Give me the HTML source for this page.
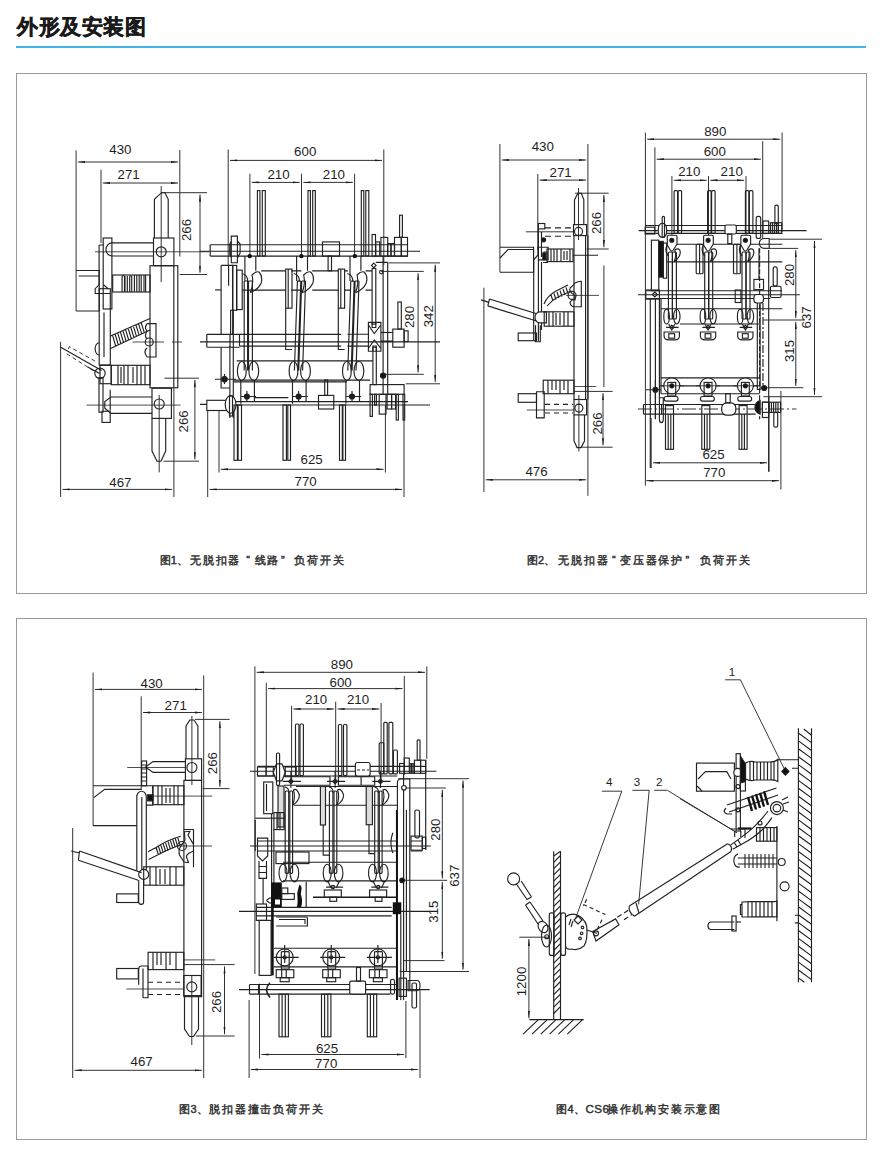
<!DOCTYPE html>
<html><head><meta charset="utf-8">
<style>
html,body{margin:0;padding:0;background:#fff;}
body{width:882px;height:1155px;position:relative;overflow:hidden;font-family:"Liberation Sans",sans-serif;}
.title{position:absolute;left:17px;top:12px;font-size:20.5px;font-weight:bold;color:#1a1a1a;letter-spacing:0.55px;-webkit-text-stroke:0.5px #1a1a1a;line-height:30px;white-space:nowrap;}
.rule{position:absolute;left:16px;top:46px;width:850px;height:2px;background:#3fb4e6;}
.box{position:absolute;border:1.5px solid #9a9a9a;box-sizing:border-box;}
.cap{position:absolute;font-size:11px;font-weight:normal;-webkit-text-stroke:0.45px #333;color:#333;letter-spacing:1.8px;white-space:nowrap;line-height:14px;}
svg{position:absolute;left:0;top:0;}
</style></head><body>
<div class="title">外形及安装图</div>
<div class="rule"></div>
<div class="box" style="left:15.5px;top:72.5px;width:851px;height:521.5px"></div>
<div class="box" style="left:15.5px;top:618px;width:851px;height:521.5px"></div>
<div class="cap" style="left:159.5px;top:553px;letter-spacing:0.2px">图1、</div>
<div class="cap" style="left:190.1px;top:553px">无脱扣器</div>
<div class="cap" style="left:246.2px;top:553px">“</div>
<div class="cap" style="left:254.5px;top:553px">线路</div>
<div class="cap" style="left:281.1px;top:553px">”</div>
<div class="cap" style="left:294.2px;top:553px">负荷开关</div>
<div class="cap" style="left:526.9px;top:553px;letter-spacing:0.2px">图2、</div>
<div class="cap" style="left:558.2px;top:553px">无脱扣器</div>
<div class="cap" style="left:611.9px;top:553px">“</div>
<div class="cap" style="left:620.1px;top:553px">变压器保护</div>
<div class="cap" style="left:685.4px;top:553px">”</div>
<div class="cap" style="left:700.4px;top:553px">负荷开关</div>
<div class="cap" style="left:179.4px;top:1102px;letter-spacing:0.2px">图3、</div>
<div class="cap" style="left:209.3px;top:1102px">脱扣器撞击负荷开关</div>
<div class="cap" style="left:556.3px;top:1102px;letter-spacing:0.2px">图4、</div>
<div class="cap" style="left:585.4px;top:1102px;font-weight:normal;letter-spacing:0.6px;font-size:11.5px;top:1101.5px">CS6</div>
<div class="cap" style="left:606.9px;top:1102px">操作机构安装示意图</div>
<svg width="882" height="1155" viewBox="0 0 882 1155">
<defs>
<marker id="a" viewBox="0 0 12 4" refX="12" refY="2" markerWidth="7.2" markerHeight="2.4" markerUnits="userSpaceOnUse" orient="auto-start-reverse"><path d="M0,0.4 L12,2 L0,3.6 z" fill="#1a1a1a"/></marker>
</defs>
<g id="txt" font-family="Liberation Sans" font-size="13.3" fill="#1e1e1e" text-anchor="middle">

<text x="120.4" y="154">430</text>
<text x="128.6" y="179">271</text>
<text transform="translate(191.2,230) rotate(-90)">266</text>
<text transform="translate(188.2,421.4) rotate(-90)">266</text>
<text x="120.4" y="486.7">467</text>
<text x="305.2" y="155.5">600</text>
<text x="278.5" y="179.4">210</text>
<text x="333.9" y="179.4">210</text>
<text transform="translate(414,317) rotate(-90)">280</text>
<text transform="translate(433.1,316.2) rotate(-90)">342</text>
<text x="311.6" y="464.4">625</text>
<text x="305.6" y="485.6">770</text>
<text x="542.8" y="151.2">430</text>
<text x="560.6" y="177.2">271</text>
<text transform="translate(601.0,223) rotate(-90)">266</text>
<text transform="translate(602.0,423.5) rotate(-90)">266</text>
<text x="536.5" y="476.1">476</text>
<text x="715.3" y="135.5">890</text>
<text x="714.8" y="155.7">600</text>
<text x="689.3" y="176.1">210</text>
<text x="731.7" y="176.1">210</text>
<text transform="translate(793.9,275) rotate(-90)">280</text>
<text transform="translate(811.3,317.4) rotate(-90)">637</text>
<text transform="translate(793.9,351) rotate(-90)">315</text>
<text x="713.5" y="459">625</text>
<text x="714.3" y="477">770</text>
<text x="151.6" y="687.7">430</text>
<text x="175.7" y="709.9">271</text>
<text transform="translate(216.7,763.1) rotate(-90)">266</text>
<text transform="translate(221.1,1002) rotate(-90)">266</text>
<text x="141.6" y="1065.5">467</text>
<text x="341.9" y="668.5">890</text>
<text x="340.6" y="686.7">600</text>
<text x="316.1" y="704.4">210</text>
<text x="358" y="704.4">210</text>
<text transform="translate(439.8,829.6) rotate(-90)">280</text>
<text transform="translate(438.4,911.6) rotate(-90)">315</text>
<text transform="translate(458.8,875.7) rotate(-90)">637</text>
<text x="327" y="1052.6">625</text>
<text x="326.2" y="1068">770</text>
<text transform="translate(526.0,981.5) rotate(-90)">1200</text>
</g>
<g id="dims" stroke="#333" stroke-width="1" fill="none">

<path d="M76.1,150.4V311 M179.8,150V256.5 M101,169.8V243 M161.2,186V282 M161,192.7H207 M179.6,274.5H207 M60.6,341.8V497 M173.9,388V497 M164.3,378.2H199 M163.3,461.2H199 M159.2,395V472.4"/>
<line x1="77.9" y1="162.0" x2="178.0" y2="162.0" marker-start="url(#a)" marker-end="url(#a)"/>
<line x1="102.8" y1="183.0" x2="178.0" y2="183.0" marker-start="url(#a)" marker-end="url(#a)"/>
<line x1="200.0" y1="194.5" x2="200.0" y2="272.7" marker-start="url(#a)" marker-end="url(#a)"/>
<line x1="194.9" y1="380.0" x2="194.9" y2="459.4" marker-start="url(#a)" marker-end="url(#a)"/>
<line x1="62.4" y1="489.4" x2="172.1" y2="489.4" marker-start="url(#a)" marker-end="url(#a)"/>
<path d="M228.2,149.5V265 M383.8,149.5V265 M249.9,173.7V256.5 M301.5,173.7V256.5 M354.6,173.7V256.5 M381,271.4H423.8 M383.8,374.3H423.8 M388.6,262.9H440 M405.7,383.8H440 M219,410V472.5 M385.4,405V472.5 M207.7,410V497 M404,404.5V497"/>
<line x1="230.0" y1="160.4" x2="382.0" y2="160.4" marker-start="url(#a)" marker-end="url(#a)"/>
<line x1="251.7" y1="182.4" x2="299.7" y2="182.4" marker-start="url(#a)" marker-end="url(#a)"/>
<line x1="303.3" y1="182.4" x2="352.8" y2="182.4" marker-start="url(#a)" marker-end="url(#a)"/>
<line x1="418.1" y1="273.2" x2="418.1" y2="372.5" marker-start="url(#a)" marker-end="url(#a)"/>
<line x1="435.2" y1="264.7" x2="435.2" y2="382.0" marker-start="url(#a)" marker-end="url(#a)"/>
<line x1="220.8" y1="469.3" x2="383.6" y2="469.3" marker-start="url(#a)" marker-end="url(#a)"/>
<line x1="209.5" y1="489.4" x2="402.2" y2="489.4" marker-start="url(#a)" marker-end="url(#a)"/>
<path d="M499.9,144V272.2 M587.9,144V495.8 M537.8,174V250 M575,193.2H608.7 M586.6,249H608.7 M603.9,265.5V387 M574,391.4H612.6 M580.8,447.2H612.6 M483.9,287.7V492 M578.5,188V240 M578.9,395V451.5"/>
<line x1="501.7" y1="160.0" x2="586.1" y2="160.0" marker-start="url(#a)" marker-end="url(#a)"/>
<line x1="539.6" y1="180.1" x2="586.1" y2="180.1" marker-start="url(#a)" marker-end="url(#a)"/>
<line x1="603.9" y1="195.0" x2="603.9" y2="247.2" marker-start="url(#a)" marker-end="url(#a)"/>
<line x1="603.0" y1="393.2" x2="603.0" y2="445.4" marker-start="url(#a)" marker-end="url(#a)"/>
<line x1="485.7" y1="479.8" x2="586.1" y2="479.8" marker-start="url(#a)" marker-end="url(#a)"/>
<path d="M645.4,132.5V485.7 M782.1,132.5V232 M654.9,147.4V232 M762.7,141.2V248 M671.9,176.1V241 M708.5,176.1V241 M746,176.1V241 M763.4,248.4H798.3 M763.4,320H804.5 M763,387.7H803.3 M769.6,239.2H822 M763.4,396.7H822 M651.2,418V468 M768.9,397V472 M780.9,391V489.5"/>
<line x1="647.2" y1="139.2" x2="780.3" y2="139.2" marker-start="url(#a)" marker-end="url(#a)"/>
<line x1="656.7" y1="159.2" x2="760.9" y2="159.2" marker-start="url(#a)" marker-end="url(#a)"/>
<line x1="673.7" y1="180.3" x2="706.7" y2="180.3" marker-start="url(#a)" marker-end="url(#a)"/>
<line x1="710.3" y1="180.3" x2="744.2" y2="180.3" marker-start="url(#a)" marker-end="url(#a)"/>
<line x1="795.8" y1="250.2" x2="795.8" y2="318.2" marker-start="url(#a)" marker-end="url(#a)"/>
<line x1="795.8" y1="321.8" x2="795.8" y2="385.9" marker-start="url(#a)" marker-end="url(#a)"/>
<line x1="814.5" y1="241.0" x2="814.5" y2="394.9" marker-start="url(#a)" marker-end="url(#a)"/>
<line x1="653.0" y1="462.8" x2="767.1" y2="462.8" marker-start="url(#a)" marker-end="url(#a)"/>
<line x1="646.3" y1="480.7" x2="779.1" y2="480.7" marker-start="url(#a)" marker-end="url(#a)"/>
<path d="M93.1,672.6V825.6 M203.7,675.4V1078 M141.2,696.3V790 M195,719.4H229.6 M202.6,788.6H229.6 M183.8,964.6H234.6 M195.7,1036H234.6 M72.7,828V1078 M191.9,716V785 M191.8,975V1045"/>
<line x1="94.9" y1="689.4" x2="201.9" y2="689.4" marker-start="url(#a)" marker-end="url(#a)"/>
<line x1="143.0" y1="712.5" x2="201.9" y2="712.5" marker-start="url(#a)" marker-end="url(#a)"/>
<line x1="219.9" y1="721.2" x2="219.9" y2="786.8" marker-start="url(#a)" marker-end="url(#a)"/>
<line x1="224.5" y1="966.4" x2="224.5" y2="1034.2" marker-start="url(#a)" marker-end="url(#a)"/>
<line x1="74.5" y1="1070.3" x2="201.9" y2="1070.3" marker-start="url(#a)" marker-end="url(#a)"/>
<path d="M254.9,666.3V974 M426.8,666.3V758.8 M266.3,682.7V775 M404.3,675.9V775 M291.6,705.8V781 M335.7,701.7V781 M381.1,703V780 M398.3,778.7H469 M405,788H445.9 M403.7,880.3H447.2 M403.7,960.6H444.5 M399.6,971.5H469 M259.5,983.7V1058.6 M405.9,1001V1058 M249.1,1000V1078 M420,990V1078"/>
<line x1="256.7" y1="672.3" x2="425.0" y2="672.3" marker-start="url(#a)" marker-end="url(#a)"/>
<line x1="268.1" y1="688.6" x2="402.5" y2="688.6" marker-start="url(#a)" marker-end="url(#a)"/>
<line x1="293.4" y1="709.0" x2="333.9" y2="709.0" marker-start="url(#a)" marker-end="url(#a)"/>
<line x1="337.5" y1="709.0" x2="379.3" y2="709.0" marker-start="url(#a)" marker-end="url(#a)"/>
<line x1="442.3" y1="789.8" x2="442.3" y2="878.5" marker-start="url(#a)" marker-end="url(#a)"/>
<line x1="442.3" y1="882.1" x2="442.3" y2="958.8" marker-start="url(#a)" marker-end="url(#a)"/>
<line x1="463.0" y1="780.5" x2="463.0" y2="969.7" marker-start="url(#a)" marker-end="url(#a)"/>
<line x1="261.3" y1="1054.5" x2="404.1" y2="1054.5" marker-start="url(#a)" marker-end="url(#a)"/>
<line x1="250.9" y1="1069.5" x2="418.2" y2="1069.5" marker-start="url(#a)" marker-end="url(#a)"/>
<path d="M519.3,937.2H550"/>
<line x1="528.9" y1="939.0" x2="528.9" y2="1018.2" marker-start="url(#a)" marker-end="url(#a)"/>
</g>
<g id="f1" stroke="#222" stroke-width="1.15" fill="none">

<!-- side view -->
<path d="M154.4,238V199.3L161.5,192.7H165L168.2,199.3V238"/>
<rect x="153.5" y="238" width="20.4" height="27.7"/>
<circle cx="161.2" cy="251.8" r="5"/>
<path d="M153.5,242.9H112 M153.5,256H112 M112,242.9A6,6.5 0 0 0 112,256"/>
<path d="M95,251.8H209" stroke-width="0.8"/>
<rect x="103.2" y="238" width="8.7" height="71"/>
<path d="M99.1,245H103.5 M99.1,245V284.8L95.2,288.7V293.5H110.3 M103.5,284.8L108,288.7"/>
<rect x="99.2" y="288.7" width="11.1" height="76.3"/>
<path d="M104,312.5V357"/>
<rect x="112.7" y="275" width="37.3" height="17"/>
<path d="M122.1,292V276.5Q123.3,274 124.5,276.5V292 M125,292V276 M127.3,292V276 M129.7,292V276.5Q130.7,275 131.7,276.5V292 M134.4,292V275 M136.8,292V275 M139.2,292V275 M141.2,292V275 M144,292V275 M145.6,292V275"/>
<rect x="150" y="265.7" width="27.8" height="122.1"/>
<path d="M173.8,265.7V387.8"/>
<path d="M76,270.5H99.2V311H76 M78.6,276H99.2"/>
<path d="M110,336.3L150,318.5 M110,348.7L150,330 M112.5,335.2L115.7,346.0 M115.1,334.0L118.3,344.8 M117.7,332.9L120.9,343.6 M120.3,331.7L123.5,342.4 M122.9,330.6L126.1,341.2 M125.5,329.4L128.7,340.0 M128.1,328.2L131.3,338.7 M130.7,327.1L133.9,337.5 M133.3,325.9L136.5,336.3 M135.9,324.8L139.1,335.1 M138.5,323.6L141.7,333.9 M141.1,322.5L144.3,332.7"/>
<path d="M147,323.6H156V357H147 M147,323.6Q144,328 147,331 Q144,336 147,339 M147,348Q143,351 147,357"/>
<circle cx="149.2" cy="342" r="4"/>
<path d="M132.5,342H164 M172,342H182" stroke-width="0.8"/>
<path d="M99.2,342.7A4,6 0 0 0 99.2,355"/>
<circle cx="100" cy="373.3" r="5.2" fill="#fff"/>
<path d="M60.3,347.1L101.6,370.5 M87.7,366.9L99.6,373.6"/>
<path d="M68.3,349L69.4,346.7L97.6,362.5 M66.7,353.8L94.4,371.3" stroke-dasharray="4,3" stroke-width="0.9"/>
<rect x="111.2" y="365.3" width="38.8" height="19.4"/>
<path d="M118,365.3V384.7 M121,367V383 M124,365.3V384.7 M128,365.3V384.7 M133,367V383 M137,365.3V384.7 M141,365.3V384.7 M145,365.3V384.7"/>
<rect x="100" y="365.3" width="11.2" height="18.4"/>
<rect x="99" y="377.6" width="4" height="34.6"/>
<rect x="102" y="411.2" width="8.2" height="11.2"/>
<path d="M152,397H111L104.8,401.5V408.3L111,413.4H152"/>
<path d="M86.7,405.1H180.6" stroke-width="0.8"/>
<rect x="152" y="388.2" width="19.4" height="30.2"/>
<circle cx="159.2" cy="404" r="5"/>
<path d="M152,418.4V451L157,461.2H161L165.7,451V418.4"/>
<path d="M110.2,389.8V410.2"/>
<!-- front view -->
<path d="M210.2,244.7H408 M210.2,256.1H408 M210.2,244.7V256.1 M230,244.7V256.1 M200,251.2H420"/>
<path d="M231.3,236.1H237.4V262.7H231.3Z M231.3,241L229.9,244V253L231.3,258 M237.4,241L240.1,244V253L237.4,258"/>
<rect x="257.4" y="190.6" width="2.5" height="65.4"/><rect x="262.3" y="190.6" width="3" height="65.4"/>
<rect x="308" y="190.6" width="2.4" height="65.4"/><rect x="312.7" y="190.6" width="2.6" height="65.4"/>
<rect x="361.3" y="190.6" width="2.5" height="65.4"/><rect x="365.8" y="190.6" width="3" height="65.4"/>
<g fill="#111" stroke="none"><circle cx="249.7" cy="256.1" r="2.2"/><circle cx="301.4" cy="256.1" r="2.2"/><circle cx="354.8" cy="256.1" r="2.2"/></g>
<rect x="322.5" y="241.9" width="17" height="14.2"/>
<rect x="328.1" y="256.1" width="3.4" height="14.7"/>
<rect x="372.1" y="234.5" width="3.4" height="21.6"/>
<rect x="375.8" y="241.9" width="3.9" height="14.2"/>
<rect x="380.9" y="237.4" width="6.8" height="18.7"/>
<rect x="387.7" y="243.6" width="3.3" height="12.5"/>
<rect x="391" y="243.6" width="3.5" height="12.5"/>
<rect x="394.5" y="237.4" width="6.8" height="18.7"/>
<rect x="401.3" y="237.4" width="6.2" height="18.7"/>
<rect x="399.6" y="215.2" width="2.8" height="22.2"/>
<path d="M383.1,256.1V394.3 M387.7,262.3V384.6 M375.8,262.3H387.7"/>
<rect x="372.1" y="268.5" width="3.7" height="55.6"/>
<path d="M373.8,263.1L376.1,265.4L373.8,267.7L371.5,265.4Z"/>
<circle cx="381.4" cy="272" r="1.8"/>
<path d="M368.4,322.3H380.9V351.2H368.4Z M368.4,325L374.3,333.5L380.9,325 M368.4,348.5L374.3,340L380.9,348.5 M372.1,322.3V327.5H375.8V322.3 M372.9,351.2V346H376.3V351.2"/>
<rect x="372.9" y="347.2" width="3.4" height="37.4"/>
<rect x="392.8" y="329.1" width="11.3" height="18.1"/>
<rect x="404.1" y="330.8" width="4" height="10.7"/>
<rect x="397.9" y="302" width="3.4" height="27.1"/>
<path d="M380.9,332.5H392.8"/>
<circle cx="383.1" cy="375.6" r="2.6" fill="#111"/>
<rect x="370.1" y="384.6" width="34" height="9.7"/>
<path d="M387.7,384.6V394.3"/>
<rect x="370.1" y="394.3" width="2.3" height="22.1"/>
<rect x="374.6" y="394.3" width="1.8" height="10.7"/>
<rect x="379.2" y="394.3" width="6.8" height="19.8"/>
<rect x="387.1" y="394.3" width="4.5" height="14.7"/>
<rect x="391.6" y="394.3" width="4" height="14.7"/>
<rect x="396.2" y="394.3" width="2.2" height="25.7"/>
<rect x="403" y="394.3" width="1.7" height="25.7"/>
<!-- left frame -->
<path d="M221.1,265.4H232.7V334.2 M221.1,265.4V334.2 M228.6,265.4V285.8 M221.1,347.2V388H229.9 M229.9,346.1V418 M233.3,346.1V418"/>
<rect x="232.7" y="265.4" width="4" height="44.9"/>
<rect x="230.6" y="310.3" width="2.7" height="24"/>
<rect x="236.7" y="270.1" width="5.5" height="39.5"/>
<path d="M206.8,334.3H239.5 M206.8,347.2H239.5 M206.8,334.3V347.2 M230,334.3V347.2 M233.3,334.3V346 M239.5,334.3V346 M239.5,334.3H341.2 M239.5,346.1H341.2 M200,341.8H440 M347.4,334.2H368.4 M347.4,346.1H368.4 M380.9,341H392.8"/>
<path d="M215,289.9H221.1"/>
<path d="M261.2,270.8H285.7 M291.2,270.8H301.4 M312.2,270.8H338.3 M344.6,270.8H348 M365.6,270.8H372.1 M242.2,290.1H285.7 M291.2,290.1H301.4 M312.2,290.1H338.3 M344.6,290.1H351 M365.6,290.1H372.1"/>
<path d="M236.7,360.8H372.9 M233.3,380.1H370.1 M233.3,381.9H346.8"/>
<circle cx="224.5" cy="379.2" r="2.7" fill="#111"/>
<path d="M215,379.2H236 M224.5,374V384"/>
<path d="M244.9,256.1V281 M255.8,256.1V270.8"/>
<path d="M242.2,273.5Q248.0,275 247.6,281.7"/>
<path d="M250.3,292.6Q254.0,284 252.0,275 Q256.0,270.8 259.0,272 Q263.0,276 261.2,283 Q258.0,290 250.3,292.6"/>
<path d="M244.2,281V370.5 M247.6,281V370.5 M244.2,281H247.6 M248.5,281L248.5,370.5 M252.4,281L252.4,370.5 M248.5,281H252.4"/>
<ellipse cx="241.8" cy="371" rx="4.4" ry="9.5"/><ellipse cx="253.8" cy="371" rx="4.9" ry="9.5"/>
<path d="M240.8,380V403.7 M254.4,380V401.6"/>
<circle cx="246.9" cy="396.5" r="2.5" fill="#111"/><path d="M246.9,391V402 M241.0,396.5H256.0"/>
<rect x="285.7" y="269.1" width="6.3" height="39.1"/><path d="M288.2,269.1V308.2"/>
<path d="M285.7,308.2V349.5H292.0"/>
<path d="M296.6,256.1V281 M307.5,256.1V270.8"/>
<path d="M293.9,273.5Q299.7,275 299.3,281.7"/>
<path d="M302.0,292.6Q305.7,284 303.7,275 Q307.7,270.8 310.7,272 Q314.7,276 312.9,283 Q309.7,290 302.0,292.6"/>
<path d="M297.4,281L294.4,370.5 M300.8,281L297.8,370.5 M297.4,281H300.8 M301.7,281L298.7,370.5 M305.6,281L302.6,370.5 M301.7,281H305.6"/>
<ellipse cx="293.5" cy="371" rx="4.4" ry="9.5"/><ellipse cx="305.5" cy="371" rx="4.9" ry="9.5"/>
<path d="M292.5,380V403.7 M306.1,380V401.6"/>
<circle cx="298.6" cy="396.5" r="2.5" fill="#111"/><path d="M298.6,391V402 M292.7,396.5H307.7"/>
<rect x="338.3" y="269.1" width="6.3" height="39.1"/><path d="M340.8,269.1V308.2"/>
<path d="M338.3,308.2V349.5H344.6"/>
<path d="M350.0,256.1V281 M360.9,256.1V270.8"/>
<path d="M347.3,273.5Q353.1,275 352.7,281.7"/>
<path d="M355.4,292.6Q359.1,284 357.1,275 Q361.1,270.8 364.1,272 Q368.1,276 366.3,283 Q363.1,290 355.4,292.6"/>
<path d="M350.8,281L347.8,370.5 M354.2,281L351.2,370.5 M350.8,281H354.2 M355.1,281L352.1,370.5 M359.0,281L356.0,370.5 M355.1,281H359.0"/>
<ellipse cx="346.9" cy="371" rx="4.4" ry="9.5"/><ellipse cx="358.9" cy="371" rx="4.9" ry="9.5"/>
<path d="M345.9,380V403.7 M359.5,380V401.6"/>
<circle cx="352.0" cy="396.5" r="2.5" fill="#111"/><path d="M352.0,391V402 M346.1,396.5H361.1"/>
<path d="M254.4,397.6H288.4"/>
<rect x="206.8" y="400.3" width="27.2" height="10.2"/>
<path d="M234,401.6H408 M234,405H430 M200,404.4H206.8"/>
<ellipse cx="230.6" cy="404.4" rx="5.4" ry="8.8" fill="#fff"/>
<rect x="229.5" y="396" width="3" height="20"/>
<rect x="318.5" y="395.4" width="15.3" height="13.6"/>
<rect x="324.7" y="380" width="2.9" height="15.4"/>
<rect x="234" y="405" width="3.4" height="55.3"/><rect x="238.1" y="405" width="3.4" height="55.3"/>
<rect x="283" y="405" width="3.4" height="55.3"/><rect x="287.8" y="405" width="2.7" height="55.3"/>
<rect x="339.5" y="405" width="2.8" height="55.3"/><rect x="342.9" y="405" width="2.6" height="55.3"/>
</g>
<g id="f2" stroke="#222" stroke-width="1.15" fill="none">
<path d="M574.5,224.6V199.6L577.9,193.4H581.3L583.8,199.6V224.6"/>
<rect x="573.5" y="224.6" width="13.1" height="11"/>
<circle cx="578.5" cy="231.4" r="4"/>
<path d="M574,235.6V399.5 M585.6,235.6V399.5 M587.9,235.6V399.5"/>
<path d="M499.9,247.2H533.6V272.2H499.9 M500,258L508,249.5H533.6"/>
<path d="M545,227.9H573 M545,236.2H573" stroke-dasharray="6,4"/>
<path d="M525.9,231.8H573" stroke-width="0.9"/>
<rect x="538.4" y="223.5" width="6.4" height="5.4"/>
<path d="M538.4,228.9V341 M541.5,232V257 M541.5,262V330 M573.2,255.2H598"/>
<rect x="547" y="249" width="26" height="12.6"/>
<path d="M551,249V261.6 M554,249V261.6 M557,249V261.6 M561,249V261.6 M564,251V260 M567,251V260 M570,249V261.6 M544,252H547V259H544Z"/>
<circle cx="543.6" cy="239.8" r="2" fill="#111"/>
<rect x="542.8" y="253" width="2.7" height="6.7" fill="#111"/>
<path d="M533.7,259.9L538,255V247.2H548.1V259.9H538 M543,262.5H548 M533.7,258V341"/>
<path d="M544,304Q547,296 556,291L568,285 M547,306Q552,300 558,297L570,291.5 M551,295L553,301 M554,293.5L556,299.5 M557,292L559,298 M560,290.5L562,296.5 M563,289L565,295 M566,287.5L568,293.5"/>
<path d="M581.3,281.2V306.7H574Q570,306 570,302Q572,299 575,300Q576,296 573,294Q569,292 570,288Q573,286 575,283Q578,281.2 581.3,281.2Z"/>
<circle cx="572.1" cy="295.4" r="4"/>
<path d="M566,295.4H599" stroke-width="0.8"/>
<path d="M489.5,299L540,314.8 M487.8,305.9L538,321.5 M481,299.9L489,302.4 M489.5,299L487.8,305.9"/>
<path d="M540,311.8H546.4V322.9H540A5,5.55 0 0 1 540,311.8Z" fill="#fff"/>
<rect x="544.2" y="311.8" width="29.8" height="14.4"/>
<path d="M549,311.8V326.2 M553,311.8V326.2 M556,313V325 M560,313V325 M564,311.8V326.2 M568,311.8V326.2"/>
<path d="M535.5,325.3V341.7H540.3V325.3"/>
<rect x="518.2" y="333" width="18.3" height="7.7"/>
<rect x="543.2" y="380.2" width="30.8" height="13.5"/>
<path d="M548,380.2V393.7 M552,380.2V390 M556,380.2V390 M560,380.2V393.7 M564,380.2V390 M568,380.2V393.7"/>
<path d="M574,386.5H596.2" stroke-width="0.8"/>
<rect x="518.2" y="393.7" width="18.3" height="8.6"/>
<path d="M536.5,417.8V391.7H544.2V417.8Z"/>
<path d="M526.8,410H574" stroke-width="0.8"/>
<path d="M545,404.3H573 M545,413H573" stroke-dasharray="5,4"/>
<rect x="574" y="399.5" width="12.6" height="15.4"/>
<circle cx="578.9" cy="408.1" r="4"/>
<path d="M574,414.9V441L577,447.6H581L584.5,441V414.9"/>
<path d="M645.2,225.5H782.3 M645.2,233.4H782.3 M638.7,230.6H806.6"/>
<rect x="645.2" y="227.2" width="9.6" height="6.8"/>
<path d="M658.2,230.3Q658.2,223.2 662.4,223.2Q666.7,223.2 666.7,230.3Q666.7,237.4 662.4,237.4Q658.2,237.4 658.2,230.3Z" fill="#fff"/>
<rect x="662.2" y="216.4" width="2.3" height="21" rx="1"/>
<rect x="725" y="225" width="11.3" height="9" rx="1.5" fill="#fff"/><rect x="727.8" y="234" width="4" height="9.6"/>
<rect x="756.2" y="216.4" width="4.5" height="22.1" rx="2"/>
<rect x="763" y="221" width="5.7" height="12.4"/>
<rect x="770.4" y="222.7" width="7.9" height="10.7"/><path d="M772.4,222.7V233.4 M774.4,222.7V233.4 M776.4,222.7V233.4"/>
<rect x="774.9" y="205.1" width="3.4" height="18.7" rx="1.5"/>
<rect x="778.3" y="222.7" width="3.4" height="10.7"/>
<path d="M769.2,238.5H764A4.7,4.85 0 0 0 764,248.2H769.2Z" fill="#fff"/>
<rect x="651.4" y="240.2" width="7.4" height="50.5"/>
<rect x="658.8" y="241.4" width="4.5" height="35.7" fill="#111"/>
<rect x="663.3" y="243.1" width="3.4" height="35.1"/>
<path d="M677,244.2H782.3 M666.7,261.8H782.3"/>
<path d="M759,248.2V279.4 M768.7,250V471.4"/>
<rect x="753.9" y="279.4" width="9.6" height="10.2"/>
<rect x="773.2" y="266.9" width="4" height="19.3" rx="2"/>
<rect x="770.4" y="286.2" width="10.7" height="11.3" rx="1.5"/>
<path d="M646.3,290.7H782 M646.3,298.5H770.4 M638,294.7H799.8"/>
<rect x="645.8" y="290" width="13.6" height="9.1"/>
<path d="M654.8,292L657.3,294.5L654.8,297L652.3,294.5Z"/>
<path d="M650.3,299.1V468 M655.4,299.1V419.2 M659.4,299.1V397.7 M661,299.1V393.7"/>
<path d="M661,308.7H782.3 M680,324H760"/>
<path d="M661,377.8H759.6 M661,385.8H759.6 M661,393.7H759.6"/>
<path d="M643.5,404.5H755.6 M643.5,414.1H755.6 M643.5,404.5V414.1 M661.6,404.5V414.1"/>
<path d="M638,409H796.4" stroke-dasharray="14,3,2,3" stroke-width="0.9"/>
<circle cx="655.4" cy="389.7" r="2.5" fill="#111"/><path d="M645.8,389.7H661 M655.4,380V419"/>
<path d="M659.4,397.7H663.3V419Q663.3,422.6 661.3,422.6Q659.4,422.6 659.4,419Z"/>
<rect x="721.7" y="402.8" width="14.1" height="12.4" rx="5" fill="#fff"/>
<rect x="725.7" y="393.7" width="4.5" height="9.1"/>
<path d="M760.1,400.5Q755,402 755,407.3Q755,412.6 760.1,414.1Z" fill="#111"/>
<path d="M759.6,248.2V419.2" stroke-dasharray="5,2"/>
<circle cx="764.1" cy="388" r="2.5" fill="#111"/>
<rect x="762.4" y="402.2" width="18.2" height="10.2"/><path d="M769.2,402.2V412.4 M771.4,402.2V412.4 M773.6,402.2V412.4 M775.8,402.2V412.4 M778,402.2V412.4"/>
<rect x="762.4" y="402.2" width="6.3" height="15.3"/>
<rect x="773.8" y="412.4" width="3.9" height="14.8" rx="1.5"/>
<rect x="757.3" y="302.5" width="2.8" height="87"/>
<rect x="753.9" y="294.5" width="9.6" height="8.5" rx="3" fill="#fff"/>
<path d="M763,303V390" stroke-dasharray="8,2,2,2"/>
<rect x="735.2" y="290" width="5.7" height="12.5"/>
<rect x="674.1" y="190.6" width="3.5" height="42.8" rx="1"/><rect x="678.1" y="190.6" width="3.5" height="42.8" rx="1"/>
<path d="M667.3,245V236.5Q667.3,235.2 668.8,235.2H675.6Q677.0,235.2 677.0,236.5V244L673.3,250Q671.8,252.2 670.3,250Z" fill="#fff"/><circle cx="671.8" cy="240.2" r="2" fill="#111"/>
<path d="M674.1,261.8Q676.8,256 674.8,250 Q677.8,247.6 679.8,250 Q681.8,256 674.1,261.8"/>
<path d="M667.3,245Q663.8,250 668.4,256"/>
<rect x="668.4" y="252" width="4" height="67" rx="1"/><rect x="672.4" y="252" width="4" height="67" rx="1"/>
<ellipse cx="666.6" cy="316.6" rx="2.8" ry="7.4"/><ellipse cx="676.8" cy="316.6" rx="3.2" ry="7.4"/>
<path d="M668.8,324L671.8,330L674.8,324 M666.1,327.4H678.6 M671.8,325.2L673.8,327.4L671.8,329.6L669.8,327.4Z"/>
<path d="M664.1,332H679.4V336Q679.4,339.9 674.8,339.9H668.8Q664.1,339.9 664.1,336Z"/><rect x="668.8" y="333.7" width="5.8" height="4.5"/>
<circle cx="671.8" cy="385.8" r="8" fill="#fff"/><path d="M659.8,385.8H683.8" stroke-width="0.8"/><rect x="667.8" y="382.4" width="7.9" height="13.6"/><circle cx="671.8" cy="385.8" r="2" fill="#111"/>
<rect x="664.2" y="396.5" width="13.8" height="4.6" rx="2"/>
<rect x="665.5" y="405.6" width="8" height="43.7"/><path d="M668.2,414.1V449.3 M670.8,414.1V449.3"/>
<rect x="707.6" y="190.6" width="3.5" height="42.8" rx="1"/><rect x="711.6" y="190.6" width="3.5" height="42.8" rx="1"/>
<path d="M703.6,245V236.5Q703.6,235.2 705.1,235.2H711.9Q713.3,235.2 713.3,236.5V244L709.6,250Q708.1,252.2 706.6,250Z" fill="#fff"/><circle cx="708.1" cy="240.2" r="2" fill="#111"/>
<path d="M710.4,261.8Q713.1,256 711.1,250 Q714.1,247.6 716.1,250 Q718.1,256 710.4,261.8"/>
<path d="M703.6,245Q700.1,250 704.7,256"/>
<rect x="704.7" y="252" width="4" height="67" rx="1"/><rect x="708.7" y="252" width="4" height="67" rx="1"/>
<rect x="696.2" y="244.2" width="6.8" height="29.5" rx="1"/><path d="M699.6,244.2V273.7"/>
<ellipse cx="702.9" cy="316.6" rx="2.8" ry="7.4"/><ellipse cx="713.1" cy="316.6" rx="3.2" ry="7.4"/>
<path d="M705.1,324L708.1,330L711.1,324 M702.4,327.4H714.9 M708.1,325.2L710.1,327.4L708.1,329.6L706.1,327.4Z"/>
<path d="M700.4,332H715.7V336Q715.7,339.9 711.1,339.9H705.1Q700.4,339.9 700.4,336Z"/><rect x="705.1" y="333.7" width="5.8" height="4.5"/>
<circle cx="708.1" cy="385.8" r="8" fill="#fff"/><path d="M696.1,385.8H720.1" stroke-width="0.8"/><rect x="704.1" y="382.4" width="7.9" height="13.6"/><circle cx="708.1" cy="385.8" r="2" fill="#111"/>
<rect x="700.5" y="396.5" width="13.8" height="4.6" rx="2"/>
<rect x="701.8" y="405.6" width="8" height="43.7"/><path d="M704.5,414.1V449.3 M707.1,414.1V449.3"/>
<rect x="745.4" y="190.6" width="3.5" height="42.8" rx="1"/><rect x="749.4" y="190.6" width="3.5" height="42.8" rx="1"/>
<path d="M740.9,245V236.5Q740.9,235.2 742.4,235.2H749.2Q750.6,235.2 750.6,236.5V244L746.9,250Q745.4,252.2 743.9,250Z" fill="#fff"/><circle cx="745.4" cy="240.2" r="2" fill="#111"/>
<path d="M747.7,261.8Q750.4,256 748.4,250 Q751.4,247.6 753.4,250 Q755.4,256 747.7,261.8"/>
<path d="M740.9,245Q737.4,250 742.0,256"/>
<rect x="742.0" y="252" width="4" height="67" rx="1"/><rect x="746.0" y="252" width="4" height="67" rx="1"/>
<rect x="733.5" y="244.2" width="6.8" height="29.5" rx="1"/><path d="M736.9,244.2V273.7"/>
<ellipse cx="740.2" cy="316.6" rx="2.8" ry="7.4"/><ellipse cx="750.4" cy="316.6" rx="3.2" ry="7.4"/>
<path d="M742.4,324L745.4,330L748.4,324 M739.7,327.4H752.2 M745.4,325.2L747.4,327.4L745.4,329.6L743.4,327.4Z"/>
<path d="M737.7,332H753.0V336Q753.0,339.9 748.4,339.9H742.4Q737.7,339.9 737.7,336Z"/><rect x="742.4" y="333.7" width="5.8" height="4.5"/>
<circle cx="745.4" cy="385.8" r="8" fill="#fff"/><path d="M733.4,385.8H757.4" stroke-width="0.8"/><rect x="741.4" y="382.4" width="7.9" height="13.6"/><circle cx="745.4" cy="385.8" r="2" fill="#111"/>
<rect x="737.8" y="396.5" width="13.8" height="4.6" rx="2"/>
<rect x="739.1" y="405.6" width="8" height="43.7"/><path d="M741.8,414.1V449.3 M744.4,414.1V449.3"/>
</g>
<g id="f3" stroke="#222" stroke-width="1.15" fill="none">
<path d="M186,758.8V726L189.8,720H194L197.9,726V758.8"/>
<rect x="185.4" y="758.8" width="16.2" height="21.6"/>
<circle cx="191.9" cy="767.5" r="5"/>
<path d="M185,761.6H153L145.5,767L153,772.4H185"/>
<path d="M127.2,767.5H185" stroke-width="0.8"/>
<rect x="141.6" y="761" width="5" height="24.8"/>
<path d="M141.6,765H146.6 M141.6,769H146.6 M141.6,773H146.6 M141.6,777H146.6 M141.6,781H146.6"/>
<path d="M93.1,785.7H152.7V805.1H146.3 M136.8,825.6H93.1 M93.8,797.6L104.6,789.3H141.4"/>
<rect x="183.9" y="780.4" width="17.7" height="216.3"/>

<rect x="153" y="785.8" width="30.9" height="18.9"/>
<path d="M158,785.8V804.7 M162,785.8V804.7 M166,788V803 M170,788V803 M174,785.8V804.7 M178,785.8V804.7"/>
<path d="M147.7,796.1H212.3" stroke-width="0.8"/>
<path d="M136.8,870V797A4.75,5.8 0 0 1 146.3,797V870 M141.8,797V870"/>
<rect x="147.7" y="794.8" width="5.3" height="6.1" fill="#111"/>
<path d="M148.1,851.7L155,848 M148.6,859.5L156,855.7 M154.5,848.5Q167,840 180.8,836.3 M155,856.3Q168,849 182.6,844 M156.0,847.3L158.5,855.0 M158.4,846.2L160.9,854.0 M160.8,845.1L163.3,852.9 M163.2,844.0L165.7,851.8 M165.6,842.9L168.1,850.8 M168.0,841.7L170.5,849.7 M170.4,840.6L172.9,848.6 M172.8,839.5L175.3,847.5 M175.2,838.4L177.7,846.5 M177.6,837.3L180.1,845.4"/>
<path d="M183.5,829.5H193.5V867.2 M184.4,831.8L189.9,831.3L188,835L193.5,844.5V851L188.5,853.5Q185,856 187.5,859.5L188.5,862.5L184,862L179.5,855Q178,850 181,846L185,840Z"/>
<circle cx="182" cy="846" r="4.5"/>
<path d="M176,846H212" stroke-width="0.8"/>
<path d="M79.5,851L141.6,872.6 M78.4,860.3L138.3,880.2 M79.5,851L78.4,860.3 M71.2,851L79.5,853"/>
<circle cx="143.7" cy="874.4" r="5"/>
<rect x="143.7" y="866.8" width="40.1" height="18.4"/>
<path d="M150,866.8V885.2 M156,866.8V885.2 M160,869V884 M165,869V884 M170,866.8V885.2 M176,866.8V885.2"/>
<rect x="116.7" y="893.9" width="21.6" height="8.6"/>
<path d="M138.7,880V902Q138.7,904.3 141.2,904.3Q143.6,904.3 143.6,902V880"/>
<rect x="148.1" y="952.3" width="35.7" height="17.3"/>
<path d="M153,952.3V969.6 M157,952.3V965 M161,952.3V965 M166,952.3V969.6 M170,952.3V965 M176,952.3V969.6"/>
<path d="M183.8,959.9H215.2" stroke-width="0.8"/>
<rect x="116.7" y="968.5" width="21.6" height="10.4"/>
<path d="M143,997.7H148V966H141.5Q138.7,966 138.7,969V984.7 M143,997.7V968.5"/>
<path d="M126.4,989H183.8" stroke-width="0.8"/>
<path d="M148,982.2H184 M148,994.5H184" stroke-dasharray="5,4"/>
<rect x="183.8" y="975.5" width="17.3" height="20.1"/>
<circle cx="191.8" cy="986.9" r="5"/>
<path d="M184.5,995.6V1029L189.5,1036.5H193.5L198.5,1029V995.6"/>
<path d="M257.5,766.3H426 M257.5,776H397.4 M250,771.2H436.4"/>
<rect x="257.5" y="767" width="15.8" height="9"/><path d="M266,767V776"/>
<path d="M273.3,772.3L276.5,763.8H282L285.2,772.3L282,780.8H276.5Z" fill="#fff"/>
<rect x="276.5" y="753" width="3.1" height="32.4" rx="1.2"/>
<rect x="285.2" y="767" width="11" height="9"/>
<rect x="295.5" y="724" width="3.4" height="51.6" rx="1"/><rect x="300" y="724" width="3.4" height="51.6" rx="1"/>
<rect x="338.4" y="724.5" width="3.4" height="51.1" rx="1"/><rect x="343.5" y="724.5" width="3.4" height="51.1" rx="1"/>
<rect x="383.8" y="722.3" width="3.4" height="51.6" rx="1"/><rect x="388.9" y="722.3" width="3.9" height="51.6" rx="1"/>
<rect x="379.2" y="742.7" width="4.6" height="31.2" rx="1"/>
<rect x="393.4" y="750" width="4" height="23.9" rx="1"/>
<rect x="355.4" y="762.5" width="14.7" height="13.6" rx="2" fill="#fff"/><path d="M357,770H369" stroke-dasharray="3,2"/>
<rect x="399.6" y="763.5" width="4.6" height="9.8"/><rect x="404.2" y="758" width="5.1" height="15.3"/>
<rect x="410" y="763.7" width="4.4" height="9.6"/><path d="M411.5,763.7V773.3 M413,763.7V773.3"/>
<rect x="414.4" y="760.2" width="6.2" height="13.1"/><rect x="417.2" y="739.8" width="2.8" height="20.4" rx="1"/><rect x="420.6" y="760.2" width="5.1" height="13.1"/>
<path d="M338.4,776.7H374.7V785.2H338.4Z M361.1,776.7V785.2 M284,776.7H330V785.2H284"/>
<path d="M397.4,783Q397.4,779 401,779H409.8V990 M397.4,783V1000 M403.6,773.9V1000 M425.7,760.2V850"/>
<circle cx="403.9" cy="787.8" r="2.3" fill="#fff"/>
<path d="M296,786.5H397.4 M294,805.2H397.4"/>
<rect x="276" y="852" width="33" height="11.6"/><rect x="278" y="786" width="6" height="41" fill="#ddd"/>
<rect x="263.7" y="782" width="9.1" height="31.7"/><path d="M266.5,784V811"/>
<rect x="273.9" y="812.6" width="10.2" height="17"/><path d="M277,812.6V829.6 M280,812.6V829.6"/>
<path d="M255.2,818.2H285.2"/>
<path d="M271.6,813.7V907 M273.9,829.6V907"/>
<rect x="320.4" y="786.5" width="5.1" height="38.5" fill="#ddd"/>
<rect x="366.2" y="786.5" width="6.2" height="38.2" fill="#ddd"/>
<path d="M323.2,825V855.1H330 M369,824.7V853.6H374"/>
<path d="M250,846H430.8 M257.5,841H397 M257.5,851H397 M411,841H422.3 M411,851H422.3"/>
<path d="M392.8,832.7Q389,843 392.8,853.1" />
<path d="M257.5,838.1H267.7V856L262.6,861L257.5,856Z M259,861V878.4H266.5V861 M259,866.5H266.5 M259,872.5H266.5"/>
<path d="M255.2,820V851 M263.1,878.4V904"/>
<rect x="411" y="836.1" width="11.3" height="14.1"/><rect x="422.3" y="837.2" width="3.4" height="11.3"/><rect x="414.9" y="810" width="4.6" height="27.8" rx="1.5"/>
<path d="M283,862.2H397 M283,880.9H397"/>
<rect x="271.1" y="882.4" width="10.7" height="24.9" fill="#111" stroke="none"/>
<rect x="275" y="899.5" width="5" height="5" fill="#fff" stroke="none"/>
<rect x="281.8" y="888" width="6" height="5.6"/><rect x="281.8" y="893.6" width="12.5" height="5.8"/>
<path d="M266.5,900.5L269.5,898H271 M266.5,900.5L269.5,903H271"/>
<path d="M299.5,884.5Q302.5,886 301.2,891Q300,894 301.8,898Q302.5,904 301,907.3H297Q298,902 297.5,898Q296.6,893 298.4,888Z" fill="#111" stroke="none"/>
<path d="M306.2,881.8V907.3"/>
<path d="M313,897.3H396.6" stroke-width="1.6" stroke="#1a1a1a"/>
<path d="M256.3,907.4H391.7 M256.3,915.9H391.7 M239,911.3H430"/>
<rect x="256.3" y="904" width="10.2" height="16.4"/>
<rect x="392.8" y="902.3" width="8.5" height="11.9" fill="#111" stroke="none"/>
<path d="M276.2,917H306Q307.4,917 307.4,918.5V926H276.2 M279,919.5H305V924"/>
<path d="M272.4,883V975.4" stroke-width="2.6" stroke="#111"/>
<rect x="259.2" y="920.4" width="11.9" height="55"/>
<path d="M396.8,810V1000" stroke-width="1.7" stroke="#111"/>
<path d="M400.8,914.2V1000 M406.4,810V971.4"/>
<circle cx="402.1" cy="880.3" r="2.3" fill="#111"/>
<path d="M273.9,948.2H396 M273.9,966.9H396"/>
<path d="M249.5,984.5H396 M249.5,994.1H390.6 M239,989.6H429.7 M258.6,984.5V994.1 M249.5,984.5V994.1"/>
<path d="M270,982.8Q263,990 270,997.5" stroke-width="1.6"/>
<rect x="349.7" y="981.1" width="15.9" height="13" rx="1.5" fill="#fff"/><rect x="356.5" y="967.5" width="4" height="13.6"/>
<rect x="390.6" y="979.4" width="3.9" height="14.7" rx="1.5"/>
<rect x="399.1" y="978.2" width="7.3" height="18.2"/>
<path d="M408.1,980.5H417Q420,980.5 420,985.6Q420,990.7 417,990.7H408.1Z"/>
<rect x="412" y="983" width="4.5" height="25" rx="1.5"/>
<path d="M290.9,779L293.3,781.4L290.9,783.8L288.5,781.4Z" fill="#555"/><path d="M282.9,781.4H300.9 M290.9,771V788"/>
<path d="M284.9,787Q289.4,788 288.9,793"/>
<path d="M292.6,805.2Q295.9,797 293.4,790 Q296.9,787.5 299.4,795 Q299.4,801 292.6,805.2"/>
<rect x="285.2" y="791" width="3.5" height="82.3" rx="1"/><rect x="289.8" y="791" width="2.8" height="82.3" rx="1"/>
<ellipse cx="283.0" cy="873" rx="4" ry="8.8"/><ellipse cx="294.4" cy="873" rx="4.3" ry="8.8"/>
<path d="M335.1,779L337.5,781.4L335.1,783.8L332.7,781.4Z" fill="#555"/><path d="M327.1,781.4H345.1 M335.1,771V788"/>
<path d="M329.1,787Q333.6,788 333.1,793"/>
<path d="M336.8,805.2Q340.1,797 337.6,790 Q341.1,787.5 343.6,795 Q343.6,801 336.8,805.2"/>
<rect x="329.4" y="791" width="3.5" height="82.3" rx="1"/><rect x="334.0" y="791" width="2.8" height="82.3" rx="1"/>
<ellipse cx="327.2" cy="873" rx="4" ry="8.8"/><ellipse cx="338.6" cy="873" rx="4.3" ry="8.8"/>
<path d="M328.1,881.8L331.1,888 M339.1,881.8L336.1,888 M326.1,887.1H343.1"/><circle cx="332.9" cy="887.1" r="1.7"/>
<rect x="324.3" y="890" width="17" height="7.3"/><rect x="329.9" y="897.3" width="6.8" height="4"/>
<path d="M380.4,779L382.8,781.4L380.4,783.8L378.0,781.4Z" fill="#555"/><path d="M372.4,781.4H390.4 M380.4,771V788"/>
<path d="M374.4,787Q378.9,788 378.4,793"/>
<path d="M382.1,805.2Q385.4,797 382.9,790 Q386.4,787.5 388.9,795 Q388.9,801 382.1,805.2"/>
<rect x="374.7" y="791" width="3.5" height="82.3" rx="1"/><rect x="379.3" y="791" width="2.8" height="82.3" rx="1"/>
<ellipse cx="372.5" cy="873" rx="4" ry="8.8"/><ellipse cx="383.9" cy="873" rx="4.3" ry="8.8"/>
<path d="M373.4,881.8L376.4,888 M384.4,881.8L381.4,888 M371.4,887.1H388.4"/><circle cx="378.2" cy="887.1" r="1.7"/>
<rect x="369.6" y="890" width="17" height="7.3"/><rect x="375.2" y="897.3" width="6.8" height="4"/>
<circle cx="284.7" cy="957.3" r="8.5" fill="#fff"/><rect x="281.3" y="951.6" width="7.9" height="17.6" rx="1"/><circle cx="284.7" cy="957.3" r="1.6"/><path d="M273.7,957.3H298.7 M284.7,945V963"/>
<rect x="276.2" y="969.7" width="17.6" height="8"/><path d="M281.7,969.7V977.7 M286.2,969.7V977.7"/><rect x="280.2" y="977.7" width="9" height="4"/>
<rect x="279.0" y="994.1" width="9.4" height="42.7"/><path d="M282.1,994.1V1036.8 M285.3,994.1V1036.8"/>
<circle cx="331.2" cy="957.3" r="8.5" fill="#fff"/><rect x="327.8" y="951.6" width="7.9" height="17.6" rx="1"/><circle cx="331.2" cy="957.3" r="1.6"/><path d="M320.2,957.3H345.2 M331.2,945V963"/>
<rect x="322.7" y="969.7" width="17.6" height="8"/><path d="M328.2,969.7V977.7 M332.7,969.7V977.7"/><rect x="326.7" y="977.7" width="9" height="4"/>
<rect x="321.5" y="994.1" width="9.4" height="42.7"/><path d="M324.6,994.1V1036.8 M327.8,994.1V1036.8"/>
<circle cx="377.9" cy="957.3" r="8.5" fill="#fff"/><rect x="374.5" y="951.6" width="7.9" height="17.6" rx="1"/><circle cx="377.9" cy="957.3" r="1.6"/><path d="M366.9,957.3H391.9 M377.9,945V963"/>
<rect x="369.4" y="969.7" width="17.6" height="8"/><path d="M374.9,969.7V977.7 M379.4,969.7V977.7"/><rect x="373.4" y="977.7" width="9" height="4"/>
<rect x="367.3" y="994.1" width="9.4" height="42.7"/><path d="M370.4,994.1V1036.8 M373.6,994.1V1036.8"/>
</g>
<g id="f4" stroke="#222" stroke-width="1.15" fill="none">
<path d="M798.4,728.2V982.3 M811.5,728.2V982.3"/>
<path d="M803.8,729L811.5,735.3 M798.4,733.0L811.5,742.6 M798.4,740.9L811.5,750.5 M798.4,748.8L811.5,758.4 M798.4,756.7L811.5,766.3 M798.4,764.6L811.5,774.2 M798.4,772.5L811.5,782.1 M798.4,780.4L811.5,790.0 M798.4,788.3L811.5,797.9 M798.4,796.2L811.5,805.8 M798.4,804.1L811.5,813.7 M798.4,812.0L811.5,821.6 M798.4,819.9L811.5,829.5 M798.4,827.8L811.5,837.4 M798.4,835.7L811.5,845.3 M798.4,843.6L811.5,853.2 M798.4,851.5L811.5,861.1 M798.4,859.4L811.5,869.0 M798.4,867.3L811.5,876.9 M798.4,875.2L811.5,884.8 M798.4,883.1L811.5,892.7 M798.4,891.0L811.5,900.6 M798.4,898.9L811.5,908.5 M798.4,906.8L811.5,916.4 M798.4,914.7L811.5,924.3 M798.4,922.6L811.5,932.2 M798.4,930.5L811.5,940.1 M798.4,938.4L811.5,948.0 M798.4,946.3L811.5,955.9 M798.4,954.2L811.5,963.8 M798.4,962.1L811.5,971.7 M798.4,970.0L811.5,979.6 M798.4,977.9L804.4,982.3 "/>
<path d="M553.7,851.2V1019.6 M560.5,851.2V1019.6"/>
<path d="M553.7,856.0L560.5,851.2 M553.7,862.3L560.5,855.5 M553.7,868.6L560.5,861.8 M553.7,874.9L560.5,868.1 M553.7,881.2L560.5,874.4 M553.7,887.5L560.5,880.7 M553.7,893.8L560.5,887.0 M553.7,900.1L560.5,893.3 M553.7,906.4L560.5,899.6 M553.7,912.7L560.5,905.9 M553.7,919.0L560.5,912.2 M553.7,925.3L560.5,918.5 M553.7,931.6L560.5,924.8 M553.7,937.9L560.5,931.1 M553.7,944.2L560.5,937.4 M553.7,950.5L560.5,943.7 M553.7,956.8L560.5,950.0 M553.7,963.1L560.5,956.3 M553.7,969.4L560.5,962.6 M553.7,975.7L560.5,968.9 M553.7,982.0L560.5,975.2 M553.7,988.3L560.5,981.5 M553.7,994.6L560.5,987.8 M553.7,1000.9L560.5,994.1 M553.7,1007.2L560.5,1000.4 M553.7,1013.5L560.5,1006.7 "/>
<path d="M529.3,1019.6H583.7"/>
<path d="M523.1,1034.1L538.1,1019.9 M532,1034.1L547,1019.9 M540.8,1034.1L555.8,1019.9 M549.6,1034.1L564.6,1019.9 M558.4,1034.1L573.4,1019.9 M567.3,1034.1L582.3,1019.9 "/>
<g font-family="Liberation Sans" font-size="11.6" fill="#1e1e1e" stroke="none" text-anchor="middle"><text x="731.9" y="676.4">1</text><text x="659.2" y="785.9">2</text><text x="637.1" y="785.9">3</text><text x="609.3" y="786.4">4</text></g>
<path d="M725.1,679.8H740.4L785.4,771.1 M654.2,790.3H667.3L737,832.7 M632.4,790.3H649.2L638.6,904.4 M601.8,791.2H621.8L575.7,918" stroke-width="0.9"/>
<path d="M785.4,767.6L789,771.4L785.4,775.2L781.8,771.4Z" fill="#111"/>
<rect x="696.5" y="763.1" width="37.9" height="28.1"/>
<path d="M698,779L705.5,771.6H726.8L731,779 M697,786L702,791"/>
<path d="M777.8,759.7H798.4 M792,768.2H798.4"/>
<path d="M745.5,763Q750,760.5 755,762H770Q775,762 777.8,759.5V781.5Q775,779.5 770,780H755Q750,781.5 745.5,779Z"/>
<path d="M750,762V780 M753.5,762V780 M757,762V780 M760.5,762V780 M764,762V780 M767.5,762V780 M771,762V780 M774,761V781"/>
<rect x="736.1" y="753.7" width="4.3" height="77.3"/>
<circle cx="737.8" cy="772.4" r="4" fill="#fff"/>
<circle cx="738" cy="786.6" r="2"/><circle cx="738" cy="809.8" r="2"/>
<path d="M740.4,756L745.5,764V781.5L740.4,783Z" fill="#111"/>
<rect x="740.4" y="781" width="5" height="10"/>
<path d="M727,805L776.5,788 M729,812L778,795" />
<path d="M748,797L752,811 M752,795.6L756,809.5 M756,794.2L760,808 M760,792.8L764,806.6 M764,791.4L768,805" stroke-width="2.4" stroke="#111"/>
<path d="M726,808Q722,812 727,814L732,814"/>
<circle cx="776.9" cy="808.1" r="6.5" fill="#fff"/><circle cx="776.9" cy="808.1" r="3.8"/>
<path d="M782,800L788,797 M783,804L789,802 M783,810L788,812"/>
<path d="M768,811Q757,826 741.8,836.9 M772,817.6Q766,826 761.2,830.8Q752,839 743.9,843.1 M741.8,836.9L730.6,845.1 M743.9,843.1L732.7,849.2 M734,842L737,847 M738,840L741,845"/>
<circle cx="760" cy="823" r="2"/>
<path d="M737.8,828.5H751.4" stroke-width="2.2" stroke="#111"/>
<rect x="756.5" y="827.6" width="20.4" height="13.6"/>
<path d="M760,827.6V841.2 M763.5,827.6V841.2 M767,827.6V841.2 M770.5,827.6V841.2 M774,827.6V841.2"/>
<path d="M776.9,825.9V921.2 M794.8,915.2H798.4 M794.8,922.9H798.4"/>
<path d="M680,798.7L737,832.7" stroke-width="0.9"/>
<path d="M734.7,831V837 M740.8,831V837 M731,829H745V838"/>
<path d="M737.8,858L776.9,858 M737.8,864L776.9,864 M738,854Q733,856 734,862Q735,868 740,867"/>
<path d="M745,854V868 M749,854V868 M753,854V868 M757,854V868 M761,854V868 M765,854V868 M769,854V868 M773,854V868" stroke-width="1.1"/>
<circle cx="781.7" cy="862" r="3.5"/>
<circle cx="784.6" cy="886.3" r="4.5"/>
<path d="M742,902Q748,901.5 752,901.6H774Q776,901.6 776.9,901V917Q776,916.5 774,916.9H752Q748,917 742,916.9Z"/>
<path d="M742,904.5H740.4V914.5H742 M748,902V917 M752,902V917 M756,902V917 M760,902V917 M764,902V917 M768,902V917 M772,902V917"/>
<path d="M734.4,922H710.5A3,3.8 0 0 0 710.5,929.5H734.4"/>
<rect x="731.9" y="916" width="4.2" height="15"/>
<path d="M736.1,922H741"/>
<path d="M629.3,906.1L727.6,843.8 M634.4,916.3L731,851.4 M629.3,906.1Q628,912 634.4,916.3 M727.6,843.8Q733,846 731,851.4"/>
<path d="M636,903L639,913" />
<path d="M617.3,917.2L629,909.8 M624,919.7L632,914.4" stroke-dasharray="5,3"/>
<path d="M592.7,931.6L615.6,918.9L619,924.8L596,941Z"/>
<circle cx="596" cy="933.3" r="2.5"/>
<path d="M586.7,930L597,933.3"/>
<path d="M583.3,904.4L605.4,914.6 M602,919.7L597,930 M586.7,899.3L583.3,906" stroke-dasharray="4,3"/>
<rect x="549.3" y="912.9" width="4.8" height="42.5" rx="2"/>
<rect x="560.9" y="912.9" width="4.6" height="42.5" rx="2"/>
<ellipse cx="546.5" cy="936" rx="5" ry="11"/>
<circle cx="546.8" cy="936.7" r="2"/>
<path d="M565.5,917Q570,913 576,914.6Q584,917 586.7,926Q588,940 584,946Q578,951 572,949Q566,950 565.5,946"/>
<path d="M574,920L578,916L582,920L578,924Z"/>
<circle cx="582.5" cy="927.4" r="1.3"/><circle cx="581.6" cy="933.3" r="1.3"/><circle cx="580" cy="938.4" r="1.3"/>
<path d="M569,925L571,919 M571,927L573,921"/>
<circle cx="513.6" cy="878.9" r="6"/>
<path d="M516,883.5L527,899.5 M521.2,881L531.5,897 M527,899.5L531.5,897"/>
<path d="M525.5,905L538,924 M530,902L543,921 M525.5,905L530,902"/>
<ellipse cx="543" cy="927" rx="4.5" ry="6" transform="rotate(-30 543 927)"/>
</g>
</svg>
</body></html>
